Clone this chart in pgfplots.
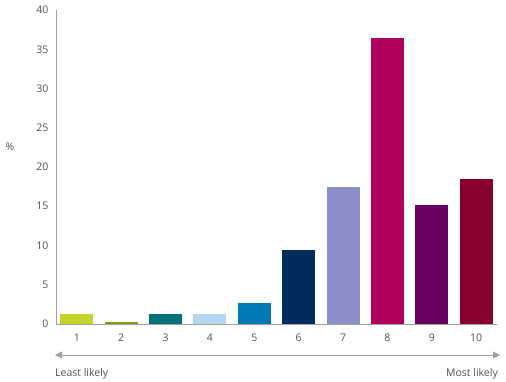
\documentclass[border=0pt]{standalone}
\usepackage{fontspec}
\setmainfont{Open Sans}
\usepackage{pgfplots}
\pgfplotsset{compat=1.18}
\usetikzlibrary{arrows.meta}
\definecolor{txt}{HTML}{505050}
\definecolor{axl}{HTML}{A0A0A0}
\definecolor{c1}{HTML}{C5D32C}
\definecolor{c2}{HTML}{8A9A1B}
\definecolor{c3}{HTML}{00737A}
\definecolor{c4}{HTML}{B6D7F1}
\definecolor{c5}{HTML}{0079B5}
\definecolor{c6}{HTML}{002C5E}
\definecolor{c7}{HTML}{8B8EC7}
\definecolor{c8}{HTML}{B0005E}
\definecolor{c9}{HTML}{690060}
\definecolor{c10}{HTML}{880030}
\begin{document}
\begin{tikzpicture}[font=\fontsize{10.5}{12}\selectfont, every node/.style={text=txt}]
\begin{axis}[
  scale only axis, width=441pt, height=314pt,
  xmin=0.53, xmax=10.47, ymin=0, ymax=40,
  axis x line*=bottom, axis y line*=left,
  axis line style={axl, line width=0.8pt, -},
  xtick={1,...,10}, ytick={0,5,...,40},
  major tick length=0pt,
  tick label style={text=txt, font=\fontsize{10.5}{12}\selectfont},
  /pgf/number format/assume math mode=true,
  xticklabel style={yshift=-6pt},
  yticklabel style={xshift=-4pt},
  ybar, bar width=33pt, bar shift=0pt,
  every axis plot/.append style={draw=none},
  clip=false,
]
\addplot[fill=c1] coordinates {(1,1.3)};
\addplot[fill=c2] coordinates {(2,0.2)};
\addplot[fill=c3] coordinates {(3,1.3)};
\addplot[fill=c4] coordinates {(4,1.3)};
\addplot[fill=c5] coordinates {(5,2.7)};
\addplot[fill=c6] coordinates {(6,9.4)};
\addplot[fill=c7] coordinates {(7,17.4)};
\addplot[fill=c8] coordinates {(8,36.4)};
\addplot[fill=c9] coordinates {(9,15.1)};
\addplot[fill=c10] coordinates {(10,18.5)};
\end{axis}
\node[anchor=west] at (-54pt,177pt) {\%};
\draw[axl, line width=0.8pt, {Triangle[length=7pt,width=7pt]}-{Triangle[length=7pt,width=7pt]}] (-1pt,-31pt) -- (444pt,-31pt);
\node[anchor=base west, inner sep=0pt] at (-1pt,-52pt) {Least likely};
\node[anchor=base east, inner sep=0pt] at (442pt,-52pt) {Most likely};
\path[use as bounding box] (-56pt,-57pt) rectangle (450pt,324pt);
\end{tikzpicture}
\end{document}
